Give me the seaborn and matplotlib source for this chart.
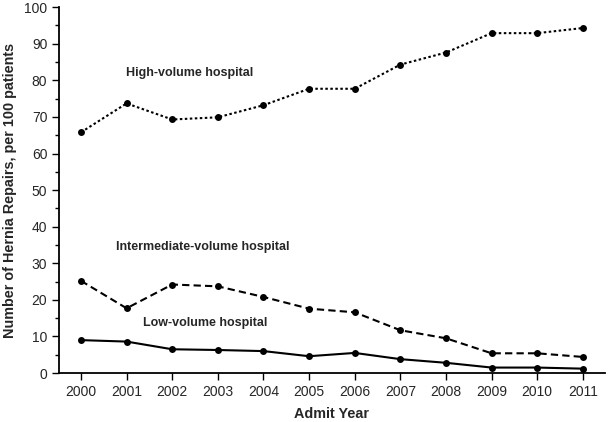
import numpy as np
import pandas as pd
import matplotlib
matplotlib.use("Agg")
import matplotlib.pyplot as plt
from matplotlib.ticker import MultipleLocator
import seaborn as sns

years = [2000, 2001, 2002, 2003, 2004, 2005, 2006, 2007, 2008, 2009, 2010, 2011]
high_volume = [65.8, 73.7, 69.3, 69.9, 73.2, 77.7, 77.7, 84.3, 87.6, 92.9, 92.9, 94.3]
intermediate_volume = [25.2, 17.7, 24.2, 23.7, 20.8, 17.6, 16.6, 11.7, 9.5, 5.4, 5.4, 4.4]
low_volume = [9.0, 8.6, 6.5, 6.3, 6.0, 4.6, 5.5, 3.8, 2.8, 1.5, 1.5, 1.2]
groups = ["High-volume hospital", "Intermediate-volume hospital", "Low-volume hospital"]

df = pd.DataFrame({
    "year": years * 3,
    "rate": high_volume + intermediate_volume + low_volume,
    "group": [groups[0]] * 12 + [groups[1]] * 12 + [groups[2]] * 12,
})

sns.set_style("ticks")
plt.rcParams["font.family"] = ["Liberation Sans", "DejaVu Sans"]

fig = plt.figure(figsize=(6.09, 4.22), dpi=100)
ax = fig.add_axes([0.097, 0.116, 0.896, 0.867])

sns.lineplot(data=df, x="year", y="rate", style="group", style_order=groups,
             dashes={groups[0]: (1.2, 1.2), groups[1]: (3.5, 2), groups[2]: ""},
             markers={g: "o" for g in groups}, color="black", linewidth=1.5,
             markersize=5, markeredgewidth=0, legend=False, ax=ax)

ax.set_xlim(1999.52, 2011.48)
ax.set_ylim(0, 100)
ax.set_xticks(years)
ax.yaxis.set_major_locator(MultipleLocator(10))
ax.yaxis.set_minor_locator(MultipleLocator(5))
ax.tick_params(axis="both", which="major", length=5, width=1, labelsize=10, color="black")
ax.tick_params(axis="y", which="minor", length=3, width=1, color="black")
for s in ["left", "bottom"]:
    ax.spines[s].set_linewidth(1.3)
    ax.spines[s].set_color("black")
sns.despine(ax=ax)

ax.set_xlabel("Admit Year", fontsize=10.4, fontweight="bold", labelpad=6)
ax.set_ylabel("Number of Hernia Repairs, per 100 patients", fontsize=10.4, fontweight="bold", labelpad=5)

ax.text(2000.99, 82, groups[0], fontsize=9, fontweight="bold", va="center")
ax.text(2000.77, 34.4, groups[1], fontsize=9, fontweight="bold", va="center")
ax.text(2001.36, 13.7, groups[2], fontsize=9, fontweight="bold", va="center")

fig.savefig("out.png", dpi=100)
